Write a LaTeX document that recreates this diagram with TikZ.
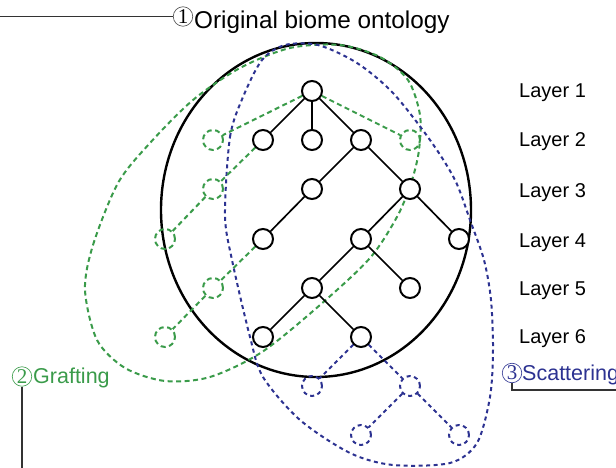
\documentclass[tikz,border=0pt]{standalone}
\usepackage{fontspec}
\setmainfont{Liberation Sans}
\newfontfamily\digitfont{Liberation Serif}
\definecolor{graft}{RGB}{58,155,74}
\definecolor{scatter}{RGB}{44,50,145}
\newcommand{\circdigit}[1]{\fontsize{21}{21}\selectfont\digitfont #1}
\begin{document}
\begin{tikzpicture}[x=1pt,y=-1pt,
  treenode/.style={circle,draw=black,fill=white,line width=2pt,minimum size=20pt,inner sep=0pt},
  treeedge/.style={line width=1.7pt},
  graftdash/.style={draw=graft,line width=2pt,dash pattern=on 5pt off 3.5pt},
  scatterdash/.style={draw=scatter,line width=2pt,dash pattern=on 4pt off 3.5pt},
  graftnode/.style={circle,graftdash,minimum size=20pt,inner sep=0pt},
  scatternode/.style={circle,scatterdash,minimum size=20pt,inner sep=0pt},
  numcircle/.style={circle,draw,line width=0.6pt,minimum size=19.5pt,inner sep=0pt},
  layerlabel/.style={anchor=base west,inner sep=0pt,font=\fontsize{20}{24}\selectfont},
  caption/.style={anchor=base west,inner sep=0pt,font=\fontsize{21.5}{26}\selectfont},
  leader/.style={line width=1pt}]
\useasboundingbox (0,0) rectangle (616,468);

% original ontology boundary
\draw[line width=2.4pt] (316,210) ellipse [x radius=155, y radius=167];

% grafting region
\draw[graftdash] plot[smooth cycle] coordinates {
  (85,290) (93,245) (118,183) (150,143) (193,100) (240,68) (290,48)
  (340,45) (380,57) (408,80) (420,115) (419,150) (412,180) (398,215)
  (370,258) (320,305) (262,352) (210,377) (165,381) (125,368) (97,340)};

% scattering region
\draw[scatterdash] plot[smooth cycle] coordinates {
  (225,215) (230,137) (243,97) (262,60) (285,45) (318,45) (357,63)
  (393,93) (430,140) (455,180) (470,220) (484,260) (491,300) (493,350)
  (490,397) (477,443) (450,463) (393,465) (350,453) (300,420) (263,377)
  (250,337) (232,260)};

% ontology tree
\node[treenode] (r)   at (312,91)  {};
\node[treenode] (a1)  at (263,140) {};
\node[treenode] (a2)  at (312,140) {};
\node[treenode] (a3)  at (361,140) {};
\node[treenode] (b1)  at (312,189) {};
\node[treenode] (b2)  at (410,189) {};
\node[treenode] (c1n) at (263,239) {};
\node[treenode] (c2n) at (361,239) {};
\node[treenode] (c3n) at (459,239) {};
\node[treenode] (d1)  at (312,288) {};
\node[treenode] (d2)  at (410,288) {};
\node[treenode] (e1)  at (263,337) {};
\node[treenode] (e2)  at (361,337) {};

\draw[treeedge] (r) -- (a1);
\draw[treeedge] (r) -- (a2);
\draw[treeedge] (r) -- (a3);
\draw[treeedge] (a3) -- (b1);
\draw[treeedge] (a3) -- (b2);
\draw[treeedge] (b1) -- (c1n);
\draw[treeedge] (b2) -- (c2n);
\draw[treeedge] (b2) -- (c3n);
\draw[treeedge] (c2n) -- (d1);
\draw[treeedge] (c2n) -- (d2);
\draw[treeedge] (d1) -- (e1);
\draw[treeedge] (d1) -- (e2);

% grafted nodes
\node[graftnode] (g1) at (213,140) {};
\node[graftnode] (g2) at (213,189) {};
\node[graftnode] (g3) at (165,239) {};
\node[graftnode] (g4) at (213,288) {};
\node[graftnode] (g5) at (165,337) {};
\node[graftnode] (g6) at (410,140) {};
\draw[graftdash] (r) -- (g1);
\draw[graftdash] (r) -- (g6);
\draw[graftdash] (a1) -- (g2);
\draw[graftdash] (g2) -- (g3);
\draw[graftdash] (c1n) -- (g4);
\draw[graftdash] (g4) -- (g5);

% scattered nodes
\node[scatternode] (s1) at (312,386) {};
\node[scatternode] (s2) at (410,386) {};
\node[scatternode] (s3) at (361,435) {};
\node[scatternode] (s4) at (459,435) {};
\draw[scatterdash] (e2) -- (s1);
\draw[scatterdash] (e2) -- (s2);
\draw[scatterdash] (s2) -- (s3);
\draw[scatterdash] (s2) -- (s4);

% layer labels
\node[layerlabel] (l1) at (519,98)  {Layer 1};
\node[layerlabel] (l2) at (519,147) {Layer 2};
\node[layerlabel] (l3) at (519,197) {Layer 3};
\node[layerlabel] (l4) at (519,247) {Layer 4};
\node[layerlabel] (l5) at (519,295) {Layer 5};
\node[layerlabel] (l6) at (519,343) {Layer 6};

% captions
\node[numcircle,draw=black!70] (n1) at (183,16.5) {\circdigit{1}};
\node[anchor=base west,inner sep=0pt,font=\fontsize{24.3}{29}\selectfont] (t1) at (194,29) {Original biome ontology};
\coordinate (t0) at (0,16.5);
\draw[leader,black!80] (t0) -- (n1.west);

\node[numcircle,draw=graft,text=graft] (n2) at (22,376.5) {\circdigit{2}};
\node[caption,text=graft] (t2) at (33,383) {Grafting};
\coordinate (g0) at (22,468);
\draw[leader,line width=1.3pt,black!80] (n2.south) -- (g0);

\node[numcircle,draw=scatter,text=scatter] (n3) at (512,373) {\circdigit{3}};
\node[caption,text=scatter] (t3) at (522,380) {Scattering};
\coordinate (s0) at (616,390);
\draw[leader,line width=1.3pt,black!80] (n3.south) |- (s0);
\end{tikzpicture}
\end{document}
